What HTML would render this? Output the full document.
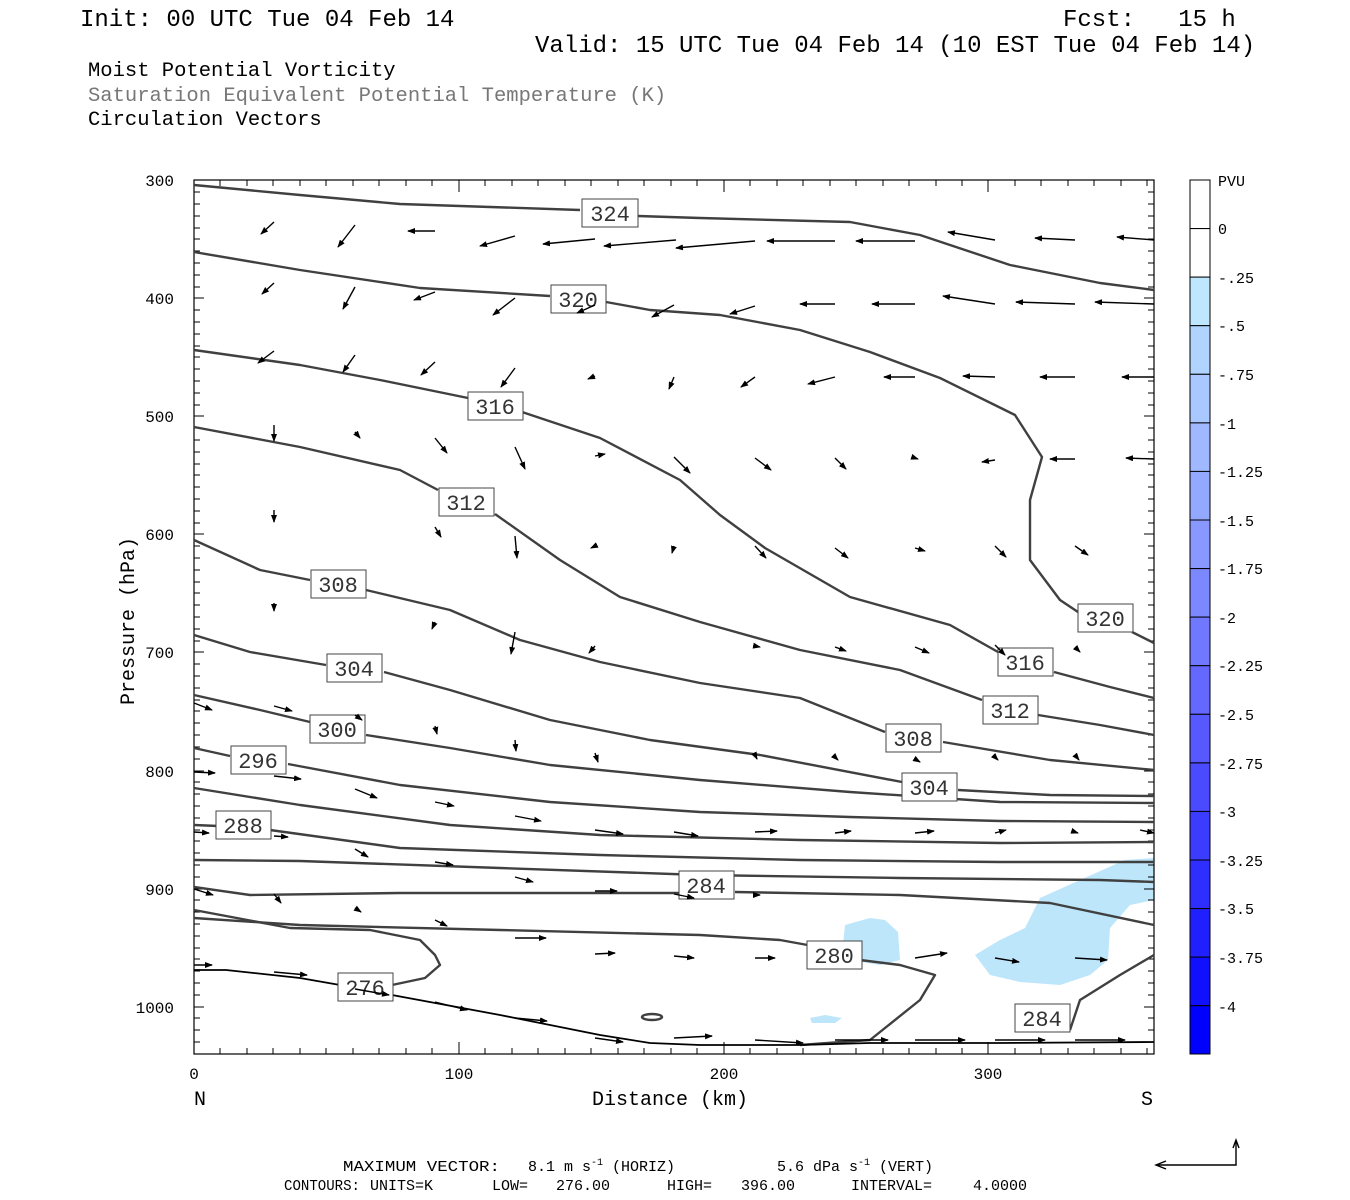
<!DOCTYPE html>
<html><head><meta charset="utf-8"><style>
body{margin:0;background:#fff;}
svg{display:block;}
text{font-family:"Liberation Mono",monospace;white-space:pre;}
</style></head><body>
<svg width="1350" height="1200" viewBox="0 0 1350 1200" xmlns="http://www.w3.org/2000/svg" xml:space="preserve">
<defs>
<marker id="ah" markerWidth="8" markerHeight="6" refX="7" refY="3" orient="auto" markerUnits="userSpaceOnUse"><path d="M0,0 L8,3 L0,6 Z" fill="#000"/></marker>
</defs>
<rect width="1350" height="1200" fill="#fff"/>
<g font-size="24" fill="#000">
<text x="80" y="26">Init: 00 UTC Tue 04 Feb 14</text>
<text x="1063" y="26">Fcst:   15 h</text>
<text x="535" y="52">Valid: 15 UTC Tue 04 Feb 14 (10 EST Tue 04 Feb 14)</text>
</g>
<g font-size="20.5">
<text x="88" y="76" fill="#000">Moist Potential Vorticity</text>
<text x="88" y="101" fill="#777">Saturation Equivalent Potential Temperature (K)</text>
<text x="88" y="125" fill="#000">Circulation Vectors</text>
</g>
<g fill="#bde6fb">
<path d="M845,925 L870,918 L885,920 L898,932 L900,960 L880,965 L850,960 L843,945 Z"/>
<path d="M975,955 L1000,940 L1025,928 L1040,898 L1080,880 L1125,860 L1154,858 L1154,900 L1130,905 L1110,928 L1108,960 L1090,975 L1060,985 L1020,982 L990,975 Z"/>
<path d="M810,1018 L825,1015 L842,1018 L835,1023 L812,1023 Z"/>
</g>
<rect x="194" y="180" width="960" height="874" fill="none" stroke="#000" stroke-width="1.2"/>
<g stroke="#000" stroke-width="1">
<path d="M194,192h6M194,204h6M194,216h6M194,228h6M194,239h6M194,251h6M194,263h6M194,275h6M194,287h6M194,298h10M194,310h6M194,322h6M194,334h6M194,346h6M194,357h6M194,369h6M194,381h6M194,393h6M194,405h6M194,416h10M194,428h6M194,440h6M194,452h6M194,464h6M194,475h6M194,487h6M194,499h6M194,511h6M194,523h6M194,534h10M194,546h6M194,558h6M194,570h6M194,582h6M194,593h6M194,605h6M194,617h6M194,629h6M194,641h6M194,652h10M194,664h6M194,676h6M194,688h6M194,700h6M194,711h6M194,723h6M194,735h6M194,747h6M194,759h6M194,771h10M194,782h6M194,794h6M194,806h6M194,818h6M194,830h6M194,841h6M194,853h6M194,865h6M194,877h6M194,889h10M194,900h6M194,912h6M194,924h6M194,936h6M194,948h6M194,959h6M194,971h6M194,983h6M194,995h6M194,1007h10M194,1018h6M194,1030h6M194,1042h6"/>
<path d="M1154,192h-6M1154,204h-6M1154,216h-6M1154,228h-6M1154,239h-6M1154,251h-6M1154,263h-6M1154,275h-6M1154,287h-6M1154,298h-10M1154,310h-6M1154,322h-6M1154,334h-6M1154,346h-6M1154,357h-6M1154,369h-6M1154,381h-6M1154,393h-6M1154,405h-6M1154,416h-10M1154,428h-6M1154,440h-6M1154,452h-6M1154,464h-6M1154,475h-6M1154,487h-6M1154,499h-6M1154,511h-6M1154,523h-6M1154,534h-10M1154,546h-6M1154,558h-6M1154,570h-6M1154,582h-6M1154,593h-6M1154,605h-6M1154,617h-6M1154,629h-6M1154,641h-6M1154,652h-10M1154,664h-6M1154,676h-6M1154,688h-6M1154,700h-6M1154,711h-6M1154,723h-6M1154,735h-6M1154,747h-6M1154,759h-6M1154,771h-10M1154,782h-6M1154,794h-6M1154,806h-6M1154,818h-6M1154,830h-6M1154,841h-6M1154,853h-6M1154,865h-6M1154,877h-6M1154,889h-10M1154,900h-6M1154,912h-6M1154,924h-6M1154,936h-6M1154,948h-6M1154,959h-6M1154,971h-6M1154,983h-6M1154,995h-6M1154,1007h-10M1154,1018h-6M1154,1030h-6M1154,1042h-6"/>
<path d="M220,1054v-6M247,1054v-6M273,1054v-6M300,1054v-6M326,1054v-6M353,1054v-6M379,1054v-6M406,1054v-6M432,1054v-6M459,1054v-12M485,1054v-6M512,1054v-6M538,1054v-6M565,1054v-6M591,1054v-6M618,1054v-6M644,1054v-6M671,1054v-6M697,1054v-6M724,1054v-12M750,1054v-6M777,1054v-6M803,1054v-6M830,1054v-6M856,1054v-6M883,1054v-6M909,1054v-6M936,1054v-6M962,1054v-6M988,1054v-12M1015,1054v-6M1041,1054v-6M1068,1054v-6M1094,1054v-6M1121,1054v-6M1147,1054v-6"/>
<path d="M220,180v6M247,180v6M273,180v6M300,180v6M326,180v6M353,180v6M379,180v6M406,180v6M432,180v6M459,180v12M485,180v6M512,180v6M538,180v6M565,180v6M591,180v6M618,180v6M644,180v6M671,180v6M697,180v6M724,180v12M750,180v6M777,180v6M803,180v6M830,180v6M856,180v6M883,180v6M909,180v6M936,180v6M962,180v6M988,180v12M1015,180v6M1041,180v6M1068,180v6M1094,180v6M1121,180v6M1147,180v6"/>
</g>
<g font-size="16" fill="#000" text-anchor="end">
<text x="174" y="186">300</text><text x="174" y="304">400</text><text x="174" y="422">500</text><text x="174" y="540">600</text><text x="174" y="658">700</text><text x="174" y="777">800</text><text x="174" y="895">900</text><text x="174" y="1013">1000</text>
</g>
<g font-size="16" fill="#000" text-anchor="middle">
<text x="194" y="1079">0</text><text x="459" y="1079">100</text><text x="724" y="1079">200</text><text x="988" y="1079">300</text>
</g>
<g font-size="20" fill="#000">
<text x="194" y="1105">N</text><text x="1141" y="1105">S</text>
<text x="592" y="1105">Distance (km)</text>
<text transform="translate(134,705) rotate(-90)">Pressure (hPa)</text>
</g>
<g fill="none" stroke="#404040" stroke-width="2.4" stroke-linejoin="round">
<polyline points="194,185 300,195 400,204 580,210"/>
<polyline points="638,216 700,218 850,222 920,235 1010,265 1100,283 1154,290"/>
<polyline points="194,252 300,270 420,288 550,296"/>
<polyline points="606,302 650,310 720,315 800,330 870,352 940,378 1015,415 1042,457 1030,500 1030,560 1060,600 1078,612"/>
<polyline points="1132,632 1154,643"/>
<polyline points="194,350 300,365 380,380 468,398"/>
<polyline points="522,412 600,438 680,480 720,515 765,548 850,597 950,625 998,652"/>
<polyline points="1054,672 1110,687 1154,698"/>
<polyline points="194,427 300,447 400,470 438,490"/>
<polyline points="495,514 560,560 620,597 700,622 800,650 900,670 982,700"/>
<polyline points="1038,715 1100,725 1154,735"/>
<polyline points="194,540 260,570 310,580"/>
<polyline points="366,590 450,610 520,640 600,662 700,683 800,698 885,732"/>
<polyline points="943,742 1050,760 1154,770"/>
<polyline points="194,635 250,652 326,665"/>
<polyline points="384,672 450,690 550,720 650,740 760,755 902,782"/>
<polyline points="958,790 1050,795 1154,796"/>
<polyline points="194,695 260,710 310,722"/>
<polyline points="366,735 450,748 550,765 700,780 850,792 1000,802 1154,803"/>
<polyline points="194,748 230,756"/>
<polyline points="288,764 400,785 550,802 700,812 850,817 1000,821 1154,822"/>
<polyline points="194,788 300,805 450,825 600,835 800,840 1000,843 1154,842"/>
<polyline points="194,825 218,826"/>
<polyline points="270,830 400,848 600,855 800,860 1000,862 1154,862"/>
<polyline points="194,860 300,861 500,868 700,875 900,878 1100,880 1154,882"/>
<polyline points="194,887 250,895 400,893 680,893"/>
<polyline points="735,892 900,895 1050,903 1154,925"/>
<polyline points="194,910 290,928 370,930 420,940 435,955 440,965 425,978 392,985"/>
<polyline points="194,918 300,925 500,930 700,935 780,940 835,950"/>
<polyline points="860,960 900,965 935,975 920,1000 870,1040 800,1045"/>
<polyline points="1154,955 1120,975 1080,1000 1070,1030"/>
<ellipse cx="652" cy="1017" rx="10" ry="3"/>
</g>
<polyline fill="none" stroke="#000" stroke-width="1.8" points="194,970 226,970 300,978 340,985 392,995 500,1015 600,1035 650,1043 700,1045 800,1045 870,1043 1000,1043 1154,1042"/>
<g font-size="22" fill="#333" font-family="Liberation Sans,sans-serif" text-anchor="middle">
<g fill="#fff" stroke="#444" stroke-width="1">
<rect x="582" y="199" width="56" height="28"/><rect x="551" y="285" width="55" height="28"/><rect x="468" y="392" width="55" height="28"/><rect x="439" y="488" width="55" height="28"/><rect x="311" y="570" width="55" height="28"/><rect x="327" y="654" width="55" height="28"/><rect x="310" y="715" width="55" height="28"/><rect x="231" y="746" width="55" height="28"/><rect x="216" y="811" width="55" height="28"/><rect x="338" y="973" width="55" height="28"/><rect x="679" y="871" width="55" height="28"/><rect x="807" y="941" width="55" height="28"/><rect x="1015" y="1004" width="55" height="28"/><rect x="1078" y="604" width="55" height="28"/><rect x="998" y="648" width="55" height="28"/><rect x="983" y="696" width="55" height="28"/><rect x="886" y="724" width="55" height="28"/><rect x="902" y="773" width="55" height="28"/>
</g>
<text x="610" y="221">324</text><text x="578" y="307">320</text><text x="495" y="414">316</text><text x="466" y="510">312</text><text x="338" y="592">308</text><text x="354" y="676">304</text><text x="337" y="737">300</text><text x="258" y="768">296</text><text x="243" y="833">288</text><text x="365" y="995">276</text><text x="706" y="893">284</text><text x="834" y="963">280</text><text x="1042" y="1026">284</text><text x="1105" y="626">320</text><text x="1025" y="670">316</text><text x="1010" y="718">312</text><text x="913" y="746">308</text><text x="929" y="795">304</text>
</g>
<g stroke="#000" stroke-width="1.4" marker-end="url(#ah)" fill="none">
<line x1="274" y1="222" x2="261" y2="234"/><line x1="355" y1="225" x2="338" y2="247"/><line x1="435" y1="231" x2="408" y2="231"/><line x1="515" y1="236" x2="480" y2="246"/><line x1="595" y1="239" x2="543" y2="244"/><line x1="676" y1="240" x2="604" y2="246"/><line x1="755" y1="241" x2="676" y2="248"/><line x1="835" y1="241" x2="767" y2="241"/><line x1="915" y1="241" x2="856" y2="241"/><line x1="995" y1="240" x2="948" y2="232"/><line x1="1075" y1="240" x2="1035" y2="238"/><line x1="1154" y1="240" x2="1117" y2="237"/>
<line x1="274" y1="283" x2="262" y2="294"/><line x1="355" y1="287" x2="343" y2="309"/><line x1="435" y1="292" x2="414" y2="300"/><line x1="515" y1="298" x2="493" y2="315"/><line x1="595" y1="305" x2="577" y2="313"/><line x1="674" y1="305" x2="652" y2="317"/><line x1="755" y1="306" x2="730" y2="314"/><line x1="835" y1="304" x2="800" y2="304"/><line x1="915" y1="304" x2="872" y2="304"/><line x1="995" y1="304" x2="943" y2="296"/><line x1="1075" y1="304" x2="1016" y2="302"/><line x1="1154" y1="304" x2="1095" y2="302"/>
<line x1="274" y1="351" x2="258" y2="363"/><line x1="355" y1="355" x2="343" y2="372"/><line x1="435" y1="362" x2="421" y2="375"/><line x1="515" y1="368" x2="501" y2="387"/><line x1="595" y1="376" x2="588" y2="379"/><line x1="674" y1="377" x2="669" y2="389"/><line x1="755" y1="377" x2="741" y2="387"/><line x1="835" y1="377" x2="808" y2="384"/><line x1="915" y1="377" x2="884" y2="377"/><line x1="995" y1="377" x2="963" y2="376"/><line x1="1075" y1="377" x2="1040" y2="377"/><line x1="1154" y1="377" x2="1122" y2="377"/>
<line x1="274" y1="425" x2="274" y2="441"/><line x1="355" y1="432" x2="360" y2="438"/><line x1="435" y1="438" x2="447" y2="453"/><line x1="515" y1="447" x2="525" y2="469"/><line x1="595" y1="456" x2="605" y2="454"/><line x1="674" y1="457" x2="690" y2="473"/><line x1="755" y1="458" x2="771" y2="470"/><line x1="835" y1="458" x2="846" y2="469"/><line x1="915" y1="458" x2="918" y2="459"/><line x1="995" y1="460" x2="982" y2="462"/><line x1="1075" y1="459" x2="1050" y2="459"/><line x1="1154" y1="459" x2="1126" y2="458"/>
<line x1="274" y1="510" x2="274" y2="522"/><line x1="435" y1="527" x2="441" y2="537"/><line x1="515" y1="536" x2="517" y2="558"/><line x1="595" y1="546" x2="591" y2="548"/><line x1="674" y1="546" x2="672" y2="553"/><line x1="755" y1="546" x2="766" y2="558"/><line x1="835" y1="548" x2="848" y2="558"/><line x1="915" y1="548" x2="925" y2="551"/><line x1="995" y1="546" x2="1006" y2="557"/><line x1="1075" y1="546" x2="1088" y2="555"/>
<line x1="274" y1="603" x2="274" y2="611"/><line x1="435" y1="622" x2="432" y2="629"/><line x1="515" y1="632" x2="511" y2="654"/><line x1="595" y1="646" x2="589" y2="653"/><line x1="755" y1="646" x2="760" y2="647"/><line x1="835" y1="647" x2="846" y2="651"/><line x1="915" y1="647" x2="929" y2="653"/><line x1="995" y1="645" x2="1005" y2="655"/><line x1="1075" y1="647" x2="1080" y2="652"/>
<line x1="194" y1="703" x2="212" y2="710"/><line x1="274" y1="706" x2="292" y2="711"/><line x1="355" y1="715" x2="362" y2="720"/><line x1="435" y1="726" x2="437" y2="734"/><line x1="515" y1="740" x2="516" y2="751"/><line x1="595" y1="753" x2="598" y2="762"/><line x1="755" y1="755" x2="757" y2="759"/><line x1="835" y1="757" x2="838" y2="760"/><line x1="915" y1="759" x2="920" y2="762"/><line x1="995" y1="757" x2="998" y2="760"/><line x1="1075" y1="755" x2="1079" y2="760"/>
<line x1="194" y1="772" x2="215" y2="773"/><line x1="274" y1="776" x2="301" y2="779"/><line x1="355" y1="789" x2="377" y2="798"/><line x1="435" y1="802" x2="454" y2="806"/><line x1="515" y1="816" x2="541" y2="821"/><line x1="595" y1="830" x2="623" y2="834"/><line x1="674" y1="832" x2="698" y2="836"/><line x1="755" y1="832" x2="777" y2="831"/><line x1="835" y1="833" x2="851" y2="831"/><line x1="915" y1="833" x2="934" y2="831"/><line x1="995" y1="833" x2="1006" y2="830"/><line x1="1075" y1="832" x2="1078" y2="833"/><line x1="1140" y1="830" x2="1154" y2="833"/>
<line x1="194" y1="832" x2="209" y2="833"/><line x1="274" y1="836" x2="288" y2="837"/><line x1="355" y1="849" x2="368" y2="857"/><line x1="435" y1="862" x2="453" y2="865"/><line x1="515" y1="877" x2="533" y2="882"/><line x1="595" y1="891" x2="617" y2="891"/><line x1="674" y1="894" x2="694" y2="898"/><line x1="755" y1="895" x2="760" y2="895"/>
<line x1="194" y1="889" x2="213" y2="895"/><line x1="274" y1="894" x2="281" y2="903"/><line x1="355" y1="908" x2="361" y2="912"/><line x1="435" y1="920" x2="447" y2="926"/><line x1="515" y1="938" x2="546" y2="938"/><line x1="595" y1="954" x2="615" y2="953"/><line x1="674" y1="956" x2="694" y2="958"/><line x1="755" y1="958" x2="775" y2="958"/><line x1="915" y1="958" x2="947" y2="953"/><line x1="995" y1="958" x2="1019" y2="962"/><line x1="1075" y1="958" x2="1107" y2="960"/>
<line x1="194" y1="965" x2="212" y2="965"/><line x1="274" y1="972" x2="307" y2="975"/><line x1="355" y1="989" x2="389" y2="995"/><line x1="435" y1="1002" x2="467" y2="1010"/><line x1="515" y1="1018" x2="547" y2="1021"/><line x1="595" y1="1038" x2="623" y2="1042"/><line x1="674" y1="1038" x2="712" y2="1036"/><line x1="755" y1="1040" x2="803" y2="1043"/><line x1="835" y1="1040" x2="888" y2="1040"/><line x1="915" y1="1040" x2="965" y2="1040"/><line x1="995" y1="1040" x2="1045" y2="1040"/><line x1="1075" y1="1040" x2="1125" y2="1040"/>
</g>
<g stroke="#000" stroke-width="1">
<rect x="1190" y="180" width="20" height="48.6" fill="#fff"/>
<rect x="1190" y="228.6" width="20" height="48.6" fill="#fff"/>
<rect x="1190" y="277.1" width="20" height="48.6" fill="#bee6ff"/>
<rect x="1190" y="325.7" width="20" height="48.6" fill="#b0d4ff"/>
<rect x="1190" y="374.3" width="20" height="48.6" fill="#a8c8ff"/>
<rect x="1190" y="422.9" width="20" height="48.6" fill="#9fb8ff"/>
<rect x="1190" y="471.4" width="20" height="48.6" fill="#93a8ff"/>
<rect x="1190" y="520" width="20" height="48.6" fill="#8898ff"/>
<rect x="1190" y="568.6" width="20" height="48.6" fill="#7c88ff"/>
<rect x="1190" y="617.1" width="20" height="48.6" fill="#7078ff"/>
<rect x="1190" y="665.7" width="20" height="48.6" fill="#6468ff"/>
<rect x="1190" y="714.3" width="20" height="48.6" fill="#5858ff"/>
<rect x="1190" y="762.9" width="20" height="48.6" fill="#4a4aff"/>
<rect x="1190" y="811.4" width="20" height="48.6" fill="#3c3cff"/>
<rect x="1190" y="860" width="20" height="48.6" fill="#2e2eff"/>
<rect x="1190" y="908.6" width="20" height="48.6" fill="#2020ff"/>
<rect x="1190" y="957.1" width="20" height="48.6" fill="#1010ff"/>
<rect x="1190" y="1005.7" width="20" height="48.3" fill="#0000ff"/>
</g>
<g font-size="15" fill="#000">
<text x="1218" y="186">PVU</text><text x="1218" y="234">0</text><text x="1218" y="283">-.25</text><text x="1218" y="331">-.5</text><text x="1218" y="380">-.75</text><text x="1218" y="429">-1</text><text x="1218" y="477">-1.25</text><text x="1218" y="526">-1.5</text><text x="1218" y="574">-1.75</text><text x="1218" y="623">-2</text><text x="1218" y="671">-2.25</text><text x="1218" y="720">-2.5</text><text x="1218" y="769">-2.75</text><text x="1218" y="817">-3</text><text x="1218" y="866">-3.25</text><text x="1218" y="914">-3.5</text><text x="1218" y="963">-3.75</text><text x="1218" y="1012">-4</text>
</g>
<g font-size="15" fill="#000" font-family="Liberation Serif,serif" style="font-family:'Liberation Serif',serif">
<text x="343" y="1171" textLength="157" lengthAdjust="spacingAndGlyphs">MAXIMUM VECTOR:</text>
<text x="528" y="1171">8.1 m s<tspan font-size="10" dy="-6">-1</tspan><tspan dy="6"> (HORIZ)</tspan></text>
<text x="777" y="1171">5.6 dPa s<tspan font-size="10" dy="-6">-1</tspan><tspan dy="6"> (VERT)</tspan></text>
<text x="284" y="1190" textLength="76" lengthAdjust="spacingAndGlyphs">CONTOURS:</text>
<text x="370" y="1190">UNITS=K</text>
<text x="492" y="1190">LOW=</text>
<text x="556" y="1190">276.00</text>
<text x="667" y="1190">HIGH=</text>
<text x="741" y="1190">396.00</text>
<text x="851" y="1190">INTERVAL=</text>
<text x="973" y="1190">4.0000</text>
</g>
<g stroke="#000" stroke-width="1.4" fill="none">
<polyline points="1236,1142 1236,1165 1158,1165"/>
<path d="M1233,1148 L1236,1140 L1239,1148"/>
<path d="M1166,1161 L1156,1165 L1166,1169"/>
</g>
</svg>
</body></html>
